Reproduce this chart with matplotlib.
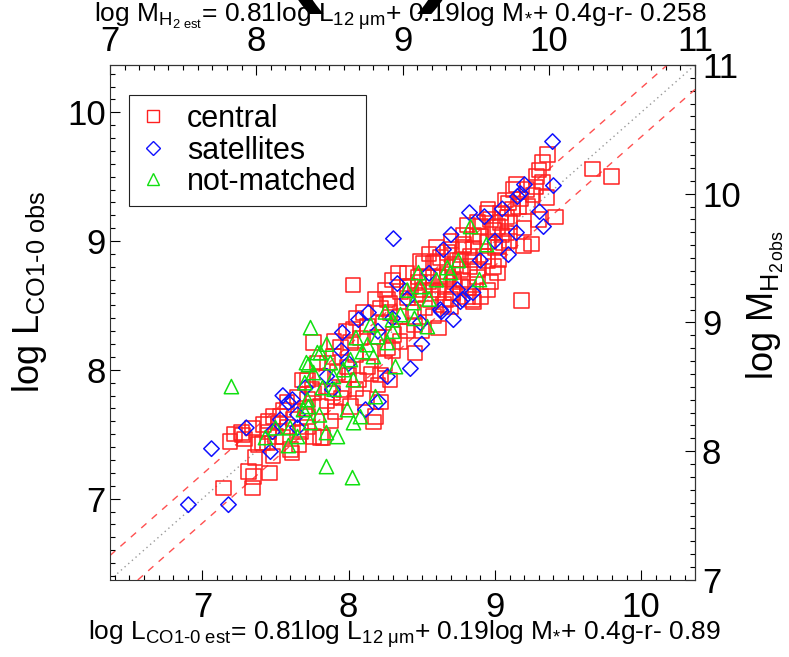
import matplotlib.pyplot as plt
from matplotlib.ticker import MultipleLocator
from matplotlib.lines import Line2D

plt.rcParams['font.family'] = ['Liberation Sans', 'DejaVu Sans']
plt.rcParams['mathtext.fontset'] = 'custom'
plt.rcParams['mathtext.rm'] = 'Liberation Sans'
plt.rcParams['mathtext.it'] = 'Liberation Sans:italic'
plt.rcParams['mathtext.bf'] = 'Liberation Sans:bold'
plt.rcParams['xtick.direction'] = 'in'
plt.rcParams['ytick.direction'] = 'in'

OFFSET = 0.632   # log M_H2 - log L_CO
SCATTER = 0.19   # dashed lines

# central galaxies (red squares)
central_x = [7.144, 7.342, 7.315, 7.349, 7.458, 7.191, 7.287, 7.267, 7.342, 7.445,
             7.602, 7.827, 8.169, 8.183, 7.274, 7.410, 7.417, 7.451, 7.485, 7.533,
             7.520, 7.554, 7.581, 7.670, 7.718, 7.759, 7.615, 7.499, 7.718, 7.786,
             7.684, 7.650, 7.718, 7.807, 7.759,
             8.812, 8.853, 8.785, 8.709, 8.627, 8.491, 8.579, 8.744, 8.832, 8.538,
             8.675, 8.764, 8.422, 8.477, 8.354, 8.265, 8.402, 8.470, 8.579, 8.648,
             8.285, 8.217, 8.101, 8.354, 8.443, 8.614, 8.128, 8.238, 8.032, 8.080,
             8.197, 8.306, 8.456, 8.012, 7.944, 8.046, 8.149, 8.265, 7.896, 7.991,
             7.855, 8.128, 8.217, 7.923, 7.807, 8.067, 7.759, 7.889, 7.964, 7.807,
             7.909, 8.012, 7.718, 8.032, 8.340,
             8.662, 8.710, 8.846, 8.949, 9.017, 9.181, 8.710, 8.764, 8.853, 9.024,
             9.024, 8.901, 8.990, 9.085, 9.038, 9.195, 9.297, 9.414, 9.161, 9.072,
             9.353, 9.147, 9.325, 9.284, 9.325, 9.359, 9.667, 9.797, 9.085, 8.969,
             9.058, 8.949, 8.853, 8.921, 8.832, 8.990, 8.880, 8.812, 8.662, 8.696,
             8.853, 9.126, 9.222, 8.764, 8.675, 8.675,
             9.092, 9.038, 8.949, 8.901, 9.017, 8.785, 8.607, 8.511, 8.614, 8.477,
             8.716, 8.402, 8.511, 8.285, 8.559, 8.901, 8.969,
             7.38, 7.45, 7.55, 7.62, 7.66, 7.36, 7.22, 7.48, 7.58, 7.70,
             7.75, 7.85, 7.95, 8.05, 8.10, 8.20, 8.25, 8.30, 8.00, 8.15,
             8.35, 8.40, 8.05, 7.98, 7.90, 8.18, 8.25, 8.30, 8.40, 8.45,
             8.52, 8.58, 8.62, 8.70, 8.55, 8.50, 8.72, 8.78, 8.82, 8.88,
             8.95, 9.00, 9.05, 9.10, 9.12, 9.18, 9.22, 9.28, 9.30, 9.26,
             8.95, 8.88, 8.78, 8.70, 8.60, 8.55, 9.10, 9.20, 9.25, 8.22,
             8.28, 7.88]
central_y = [7.085, 7.085, 7.210, 7.171, 7.202, 7.443, 7.466, 7.513, 7.551, 7.435,
             7.381, 7.474, 7.598, 7.637, 7.497, 7.435, 7.575, 7.520, 7.637, 7.637,
             7.590, 7.691, 7.559, 7.520, 7.559, 7.482, 7.357, 7.482, 7.924, 8.056,
             7.924, 7.792, 7.769, 7.474, 8.212,
             9.128, 9.050, 8.973, 8.934, 8.872, 8.841, 8.833, 8.856, 8.880, 8.717,
             8.740, 8.779, 8.647, 8.678, 8.608, 8.546, 8.561, 8.584, 8.623, 8.507,
             8.445, 8.483, 8.445, 8.414, 8.452, 8.328, 8.336, 8.367, 8.313, 8.250,
             8.258, 8.274, 8.134, 8.212, 8.173, 8.118, 8.142, 8.173, 8.103, 8.025,
             8.056, 8.025, 7.963, 7.979, 7.948, 7.924, 7.823, 7.823, 7.847, 7.715,
             7.676, 7.715, 7.637, 8.662, 8.755,
             8.647, 8.600, 8.546, 8.623, 8.755, 8.538, 8.802, 8.856, 8.856, 8.856,
             8.957, 9.035, 9.089, 9.066, 9.144, 8.965, 9.167, 9.190, 9.268, 9.322,
             9.338, 9.439, 9.462, 9.501, 9.610, 9.672, 9.563, 9.501, 9.190, 9.167,
             8.988, 8.996, 8.949, 8.880, 8.802, 8.802, 8.724, 8.569, 8.546, 8.491,
             8.530, 9.400, 9.268, 8.647, 8.724, 8.911,
             9.299, 9.221, 9.221, 9.113, 9.113, 8.957, 8.841, 8.833, 8.724, 8.724,
             8.701, 8.647, 8.623, 8.522, 8.546, 8.569, 8.685,
             7.42, 7.60, 7.48, 7.62, 7.42, 7.32, 7.50, 7.33, 7.75, 7.70,
             7.85, 7.76, 7.78, 7.85, 7.78, 7.88, 8.05, 8.15, 7.96, 7.97,
             8.22, 8.30, 8.40, 8.30, 8.22, 8.55, 8.62, 8.70, 8.75, 8.35,
             8.48, 8.42, 8.60, 8.55, 8.68, 8.30, 8.68, 8.70, 8.64, 8.78,
             8.85, 8.95, 9.05, 9.15, 9.25, 9.33, 9.40, 9.42, 9.55, 9.36,
             9.25, 9.15, 9.05, 9.00, 8.95, 8.90, 9.00, 9.10, 8.98, 7.75,
             7.92, 7.60]

# satellites (blue diamonds)
sat_x = [6.904, 7.178, 7.062, 7.704, 8.115, 8.204, 8.422, 7.957, 8.135, 8.306,
         8.333, 8.634, 8.716, 8.778, 8.648, 8.764, 8.826, 8.928, 9.092, 9.147,
         9.154, 9.175, 9.202, 9.305, 9.332, 9.394, 9.400, 7.615, 7.588, 7.650,
         7.650, 7.533, 7.465, 7.479, 8.627, 8.491, 8.067, 8.744, 7.889, 8.265,
         7.30, 7.55, 7.85, 8.00, 8.20, 8.40, 8.55, 8.90, 9.00, 8.70,
         9.05, 8.50, 8.30, 7.95, 8.85]
sat_y = [6.953, 6.953, 7.388, 7.862, 7.691, 7.753, 8.010, 8.289, 8.445, 9.019,
         8.670, 8.452, 8.390, 8.546, 8.934, 8.530, 9.221, 9.190, 8.895, 9.066,
         9.346, 9.369, 9.439, 9.229, 9.113, 9.773, 9.431, 7.769, 7.746, 7.652,
         7.551, 7.614, 7.365, 7.520, 8.468, 8.367, 8.390, 8.623, 7.847, 7.948,
         7.55, 7.80, 7.95, 8.05, 8.30, 8.55, 8.75, 8.85, 9.00, 9.05,
         9.25, 8.20, 8.40, 8.15, 8.60]

# not matched (green triangles)
nm_x = [7.198, 7.739, 7.431, 7.588, 7.923, 8.033, 7.848, 7.650, 8.477, 7.807,
        7.711, 8.320, 8.183, 8.833, 8.942, 8.696, 8.894, 8.675, 8.491, 8.443,
        8.354, 8.538, 8.299, 8.197, 8.265, 8.128, 8.094, 8.169, 8.012, 7.964,
        7.875, 7.759, 7.896, 8.032, 7.718, 7.821, 7.991, 8.080, 7.691, 7.725,
        7.786, 7.725, 7.738, 7.848, 8.026,
        7.60, 7.80, 7.90, 8.05, 8.15, 8.25, 8.40, 8.55, 8.60, 8.30,
        7.70, 7.85, 8.45, 7.50, 8.75]
nm_y = [7.870, 8.328, 7.474, 7.412, 7.482, 7.590, 7.513, 7.482, 8.755, 8.134,
        8.056, 8.025, 7.792, 9.113, 8.973, 8.755, 8.701, 8.794, 8.647, 8.522,
        8.429, 8.336, 8.390, 8.258, 8.212, 8.196, 8.142, 8.103, 8.080, 8.002,
        8.056, 7.979, 7.948, 7.924, 7.769, 7.862, 7.691, 7.637, 7.691, 8.041,
        8.134, 7.715, 7.590, 7.249, 7.163,
        7.55, 7.65, 7.85, 8.25, 8.35, 8.45, 8.62, 8.55, 8.70, 8.30,
        7.90, 8.20, 8.40, 7.55, 8.85]

red, blue, green = '#ff2020', '#1010ff', '#10e010'

fig = plt.figure(figsize=(7.89, 6.57), dpi=100)
ax = fig.add_axes([0.1394, 0.1172, 0.7415, 0.7839])

ax.axline((7, 7), slope=1, color='#999999', lw=1, ls=(0, (1, 2.5)), zorder=1)
ax.axline((7, 7 + SCATTER), slope=1, color='#ff5050', lw=1, ls=(0, (5, 5)), zorder=1)
ax.axline((7, 7 - SCATTER), slope=1, color='#ff5050', lw=1, ls=(0, (5, 5)), zorder=1)

ax.scatter(central_x, central_y, s=105, marker='s', facecolors='none',
           edgecolors=red, linewidths=1.1, zorder=2)
ax.scatter(sat_x, sat_y, s=62, marker='D', facecolors='none',
           edgecolors=blue, linewidths=1.1, zorder=3)
ax.scatter(nm_x, nm_y, s=105, marker='^', facecolors='none',
           edgecolors=green, linewidths=1.1, zorder=4)

ax.set_xlim(7 - OFFSET, 11 - OFFSET)
ax.set_ylim(7 - OFFSET, 11 - OFFSET)

for a in [ax.xaxis, ax.yaxis]:
    a.set_major_locator(MultipleLocator(1))
    a.set_minor_locator(MultipleLocator(0.1))
ax.tick_params(which='major', length=7, width=0.8, labelsize=25)
ax.tick_params(which='minor', length=3.6, width=0.8)
ax.tick_params(axis='x', pad=8)
ax.tick_params(axis='y', pad=3)
for sp in ax.spines.values():
    sp.set_linewidth(0.8)
    sp.set_color('#333333')

top = ax.secondary_xaxis('top', functions=(lambda v: v + OFFSET, lambda v: v - OFFSET))
right = ax.secondary_yaxis('right', functions=(lambda v: v + OFFSET, lambda v: v - OFFSET))
for sec, axis in [(top, top.xaxis), (right, right.yaxis)]:
    axis.set_major_locator(MultipleLocator(1))
    axis.set_minor_locator(MultipleLocator(0.1))
    sec.tick_params(which='major', length=7, width=0.8, labelsize=25, pad=5)
    sec.tick_params(which='minor', length=3.6, width=0.8)
    sec.spines[:].set_linewidth(0.8)

fig.text(0.513, 0.035,
         r'log L$_{\text{CO1-0 est}}$= 0.81log L$_{\mathrm{12\ μm}}$+ 0.19log M$_{*}$+ 0.4g-r- 0.89',
         fontsize=19, ha='center', va='center')
fig.text(0.507, 0.975,
         r'log M$_{\mathrm{H}_{2\ \text{est}}}$= 0.81log L$_{\mathrm{12\ μm}}$+ 0.19log M$_{*}$+ 0.4g-r- 0.258',
         fontsize=19, ha='center', va='center')
fig.text(0.038, 0.556, r'log L$_{\text{CO1-0 obs}}$', fontsize=26,
         rotation=90, ha='center', va='center')
fig.text(0.970, 0.536, r'log M$_{\mathrm{H}_{2\,\text{obs}}}$', fontsize=26,
         rotation=90, ha='center', va='center')
# panel title, mostly above the top edge
fig.text(0.469, 1.032, '(a)', fontsize=120, ha='center', va='baseline')

handles = [Line2D([], [], ls='none', marker='s', ms=9, mfc='none', mec=red, mew=1.0),
           Line2D([], [], ls='none', marker='D', ms=7, mfc='none', mec=blue, mew=1.0),
           Line2D([], [], ls='none', marker='^', ms=9, mfc='none', mec=green, mew=1.0)]
leg = ax.legend(handles, ['central', 'satellites', 'not-matched'], loc='upper left',
                bbox_to_anchor=(0.0325, 0.942), borderaxespad=0, fontsize=22,
                fancybox=False, framealpha=1, edgecolor='#222222', labelspacing=0.05,
                handlelength=1.0, handletextpad=0.6, borderpad=0.3)
leg.get_frame().set_linewidth(0.8)

fig.savefig('out.png', dpi=100)
